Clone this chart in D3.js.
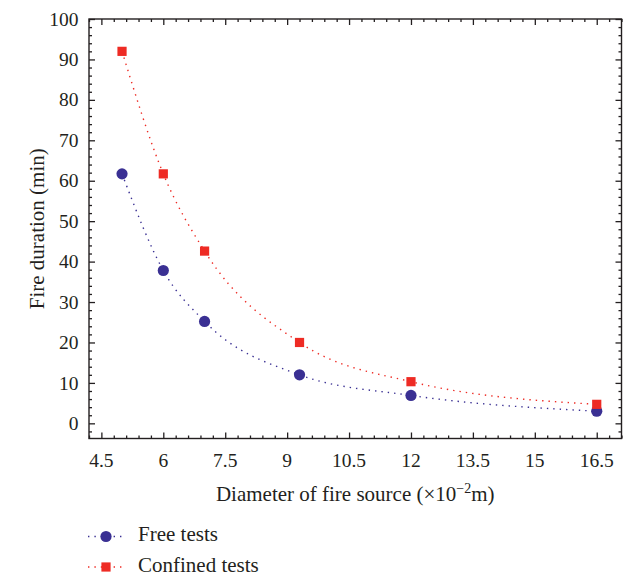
<!DOCTYPE html>
<html>
<head>
<meta charset="utf-8">
<script src="https://cdn.jsdelivr.net/npm/d3@7"></script>
<style>
  html, body { margin: 0; padding: 0; background: #fff; }
  svg text { font-family: "Liberation Serif", "Times New Roman", serif; fill: #231f20; }
</style>
</head>
<body>
<svg id="chart" width="642" height="576"></svg>
<script>
// ---- data ----
const diameters = [5, 6, 7, 9.3, 12, 16.5];
const freeTests = [61.7, 37.8, 25.2, 12.0, 6.9, 3.0];
const confinedTests = [92.0, 61.7, 42.6, 20.0, 10.3, 4.7];
const seriesNames = ["Free tests", "Confined tests"];
const xTicks = [4.5, 6, 7.5, 9, 10.5, 12, 13.5, 15, 16.5];
const yTicks = [0, 10, 20, 30, 40, 50, 60, 70, 80, 90, 100];
const xTitle = "Diameter of fire source (\u00d710";
const yTitle = "Fire duration (min)";

const blue = "#3a3093";
const red = "#ee2b24";
const ink = "#231f20";

const svg = d3.select("#chart");
const L = 89, R = 621.5, T = 19, B = 438.5;

const x = d3.scaleLinear().domain([4.2, 17.1]).range([L, R]);
const y = d3.scaleLinear().domain([-3.75, 100]).range([B, T]);

const xMinor = d3.range(4.2, 17.1001, 0.3).filter(v => !xTicks.some(t => Math.abs(t - v) < 1e-6));
const yMinor = d3.range(-2, 100.001, 2).filter(v => !yTicks.some(t => Math.abs(t - v) < 1e-6));

const g = svg.append("g");

// frame
g.append("rect").attr("x", L).attr("y", T).attr("width", R - L).attr("height", B - T)
  .attr("fill", "none").attr("stroke", ink).attr("stroke-width", 1.4);

// axes ticks (inward, mirrored)
function tickAxis(axisGen, tx, ty, values, size) {
  const a = g.append("g").attr("transform", `translate(${tx},${ty})`)
    .call(axisGen.tickValues(values).tickSize(size).tickFormat(""));
  a.select(".domain").remove();
  a.selectAll("line").attr("stroke", ink).attr("stroke-width", 1.3);
  return a;
}
tickAxis(d3.axisBottom(x), 0, B, xTicks, -6);
tickAxis(d3.axisBottom(x), 0, B, xMinor, -3);
tickAxis(d3.axisTop(x), 0, T, xTicks, -6);
tickAxis(d3.axisTop(x), 0, T, xMinor, -3);
tickAxis(d3.axisLeft(y), L, 0, yTicks, -6);
tickAxis(d3.axisLeft(y), L, 0, yMinor, -3);
tickAxis(d3.axisRight(y), R, 0, yTicks, -6);
tickAxis(d3.axisRight(y), R, 0, yMinor, -3);

// tick labels
const fmt = d => String(d);
g.append("g").selectAll("text").data(xTicks).join("text")
  .attr("x", d => x(d)).attr("y", 467)
  .attr("text-anchor", "middle").attr("font-size", 19.5).text(fmt);
g.append("g").selectAll("text").data(yTicks).join("text")
  .attr("x", 78.5).attr("y", d => y(d)).attr("dy", "0.34em")
  .attr("text-anchor", "end").attr("font-size", 19.5).text(fmt);

// axis titles
const xt = g.append("text").attr("x", (L + R) / 2).attr("y", 501)
  .attr("text-anchor", "middle").attr("font-size", 21);
xt.append("tspan").text(xTitle);
xt.append("tspan").attr("font-size", 14).attr("dy", -8).text("\u22122");
xt.append("tspan").attr("dy", 8).text("m)");

g.append("text").attr("transform", `translate(44,${(T + B) / 2}) rotate(-90)`)
  .attr("text-anchor", "middle").attr("font-size", 21).text(yTitle);

// series
const series = [
  { name: seriesNames[0], values: freeTests, color: blue, shape: "circle" },
  { name: seriesNames[1], values: confinedTests, color: red, shape: "square" }
];

const line = d3.line().x(d => x(d[0])).y(d => y(d[1])).curve(d3.curveMonotoneX);

function drawMarker(sel, shape, color) {
  if (shape === "circle") {
    sel.append("circle").attr("r", 5.6).attr("fill", color);
  } else {
    sel.append("rect").attr("x", -4.6).attr("y", -4.6).attr("width", 9.2).attr("height", 9.2).attr("fill", color);
  }
}

series.forEach(s => {
  const pts = diameters.map((d, i) => [d, s.values[i]]);
  g.append("path").datum(pts).attr("d", line)
    .attr("fill", "none").attr("stroke", s.color).attr("stroke-width", 1.4)
    .attr("stroke-dasharray", "1.4 5").attr("stroke-linecap", "butt");
});
series.forEach(s => {
  const pts = diameters.map((d, i) => [d, s.values[i]]);
  pts.forEach(p => {
    const m = g.append("g").attr("transform", `translate(${x(p[0])},${y(p[1])})`);
    drawMarker(m, s.shape, s.color);
  });
});

// legend
const legendY = [536.5, 567];
series.forEach((s, i) => {
  const lg = g.append("g").attr("transform", `translate(0,${legendY[i]})`);
  lg.append("line").attr("x1", 88).attr("x2", 124).attr("y1", 0).attr("y2", 0)
    .attr("stroke", s.color).attr("stroke-width", 1.4).attr("stroke-dasharray", "1.4 5");
  const m = lg.append("g").attr("transform", "translate(106,0)");
  drawMarker(m, s.shape, s.color);
  lg.append("text").attr("x", 138).attr("y", 4.5).attr("font-size", 21).text(s.name);
});
</script>
</body>
</html>
